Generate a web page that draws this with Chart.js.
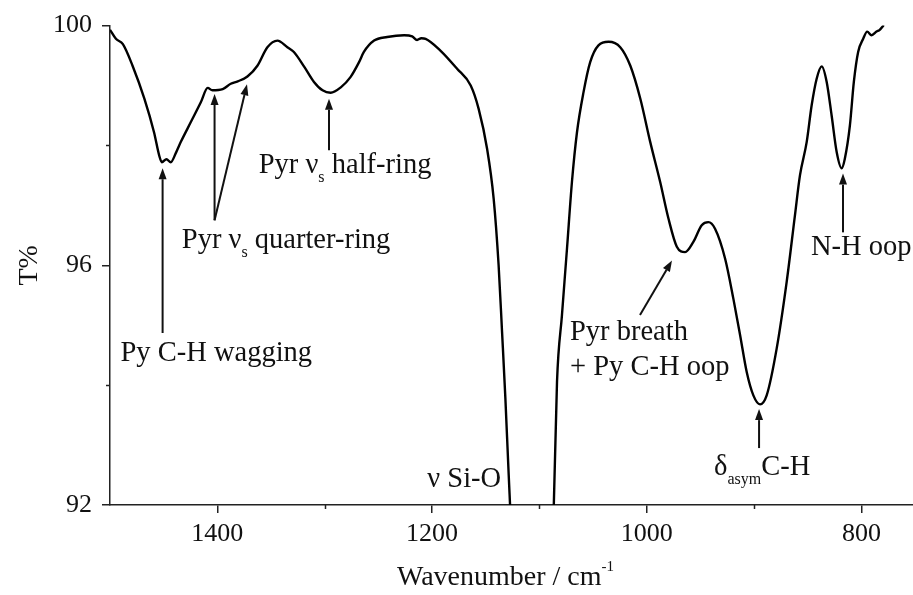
<!DOCTYPE html>
<html>
<head>
<meta charset="utf-8">
<script src="https://cdn.jsdelivr.net/npm/chart.js@4"></script>
<style>
  html, body { margin: 0; padding: 0; background: #fff; }
  #wrap { width: 913px; height: 595px; }
</style>
</head>
<body>
<div id="wrap"><canvas id="ftir" width="913" height="595"></canvas></div>
<script>
// FTIR spectrum, transmittance vs wavenumber
const wavenumber = [
  1500, 1494.5, 1488, 1479, 1468, 1459, 1454, 1451.7, 1447.4, 1443.4, 1438.5, 1434,
  1424.7, 1415.4, 1409, 1404.6, 1395, 1387.5, 1381, 1372, 1362.7, 1353.4, 1344,
  1334.8, 1328.7, 1319, 1310, 1302, 1294.5, 1285, 1276, 1268, 1263.5, 1254, 1241.8,
  1226, 1218.5, 1214, 1210, 1206, 1192, 1176.7, 1164, 1156.6, 1148.7, 1142.6, 1138,
  1134.8, 1131.7, 1128.6, 1125, 1107, 1089, 1086.6, 1083.6, 1079, 1074.3, 1069.7,
  1065, 1058.9, 1052.7, 1045, 1035.6, 1024.7, 1015.3, 1006, 996.8, 987.5, 979.8,
  972, 964.3, 956.6, 948.8, 942.6, 936.4, 927, 919.3, 913, 906.9, 900.7, 894.5,
  888.3, 879, 869.7, 862, 857.3, 851, 846.4, 841.8, 837, 832.4, 827.8, 823.1,
  818.5, 815.5, 810.8, 807.1, 803.1, 798.4, 794.7, 790.6, 786, 783, 779.2
];
const transmittance = [
  99.93, 99.78, 99.69, 99.33, 98.78, 98.22, 97.82, 97.72, 97.77, 97.72, 97.88, 98.06,
  98.39, 98.72, 98.96, 98.92, 98.94, 99.03, 99.07, 99.15, 99.33, 99.64, 99.75,
  99.64, 99.56, 99.31, 99.06, 98.92, 98.88, 98.97, 99.14, 99.39, 99.56, 99.75, 99.81,
  99.84, 99.82, 99.76, 99.79, 99.78, 99.58, 99.28, 99.0, 98.61, 97.94, 97.11, 96.0,
  94.89, 93.78, 92.5, 91.2, 88.5, 91.2, 92.0, 94.06, 95.17, 96.28, 97.39,
  98.22, 98.89, 99.39, 99.67, 99.73, 99.64, 99.33, 98.78, 98.06, 97.39, 96.78,
  96.31, 96.22, 96.39, 96.67, 96.72, 96.61, 96.11, 95.44, 94.83, 94.22, 93.83, 93.68,
  93.83, 94.61, 95.72, 96.83, 97.5, 98.06, 98.67, 99.11, 99.32, 99.06, 98.5, 97.89,
  97.62, 97.78, 98.33, 99.06, 99.56, 99.78, 99.9, 99.84, 99.9, 99.93, 100.01
];

const xTicks = [1400, 1300, 1200, 1100, 1000, 900, 800];
const xTickLabels = ['1400', '', '1200', '', '1000', '', '800'];
const yTicks = [100, 98, 96, 94, 92];
const yTickLabels = ['100', '', '96', '', '92'];

// band assignments: text parts, anchor (data coords), arrows (data coords)
const bandLabels = [
  { parts: [['Py C-H wagging']], x: 1401, y: 94.53, align: 'center',
    arrows: [[1451, 94.87, 1451, 97.62]] },
  { parts: [['Pyr ν'], ['s', 'sub'], [' quarter-ring']], x: 1336, y: 96.42, align: 'center',
    arrows: [[1402.6, 96.75, 1402.6, 98.86], [1402.6, 96.75, 1372.4, 99.02]] },
  { parts: [['Pyr ν'], ['s', 'sub'], [' half-ring']], x: 1281, y: 97.67, align: 'center',
    arrows: [[1296, 97.92, 1296, 98.78]] },
  { parts: [['ν Si-O']], x: 1170, y: 92.42, align: 'center', arrows: [] },
  { parts: [['Pyr breath']], x: 1071.5, y: 94.88, align: 'left',
    arrows: [[1006.3, 95.17, 976.5, 96.08]] },
  { parts: [['+ Py C-H oop']], x: 1071.5, y: 94.3, align: 'left', arrows: [] },
  { parts: [['δ'], ['asym', 'sub'], ['C-H']], x: 937.3, y: 92.63, align: 'left',
    arrows: [[895.4, 92.95, 895.4, 93.6]] },
  { parts: [['N-H oop']], x: 847, y: 96.3, align: 'left',
    arrows: [[817.2, 96.55, 817.2, 97.53]] }
];

const FONT = '"Liberation Serif", "Times New Roman", serif';
const points = wavenumber.map((w, i) => ({ x: w, y: transmittance[i] }));

function fontStr(size) { return size + 'px ' + FONT; }

function drawParts(ctx, parts, x, y, size, align) {
  const widths = parts.map(p => {
    ctx.font = fontStr(p[1] ? Math.round(size * 0.55) : size);
    return ctx.measureText(p[0]).width;
  });
  const total = widths.reduce((a, b) => a + b, 0);
  let cx = align === 'center' ? x - total / 2 : x;
  ctx.textBaseline = 'middle';
  ctx.textAlign = 'left';
  parts.forEach((p, i) => {
    let dy = 0;
    if (p[1] === 'sub') dy = size * 0.45;
    if (p[1] === 'sup') dy = -size * 0.4;
    ctx.font = fontStr(p[1] ? Math.round(size * 0.55) : size);
    ctx.fillText(p[0], cx, y + dy);
    cx += widths[i];
  });
}

function drawArrow(ctx, x1, y1, x2, y2) {
  const ang = Math.atan2(y2 - y1, x2 - x1);
  const head = 11, half = 4;
  const bx = x2 - head * Math.cos(ang), by = y2 - head * Math.sin(ang);
  ctx.beginPath();
  ctx.moveTo(x1, y1);
  ctx.lineTo(bx, by);
  ctx.stroke();
  ctx.beginPath();
  ctx.moveTo(x2, y2);
  ctx.lineTo(bx + half * Math.sin(ang), by - half * Math.cos(ang));
  ctx.lineTo(bx - half * Math.sin(ang), by + half * Math.cos(ang));
  ctx.closePath();
  ctx.fill();
}

const isMinorX = v => xTickLabels[xTicks.indexOf(v)] === '';
const isMinorY = v => yTickLabels[yTicks.indexOf(v)] === '';

const annotate = {
  id: 'annotate',
  afterDraw(chart) {
    const { ctx, scales: { x, y }, chartArea } = chart;
    ctx.save();
    // short minor ticks
    ctx.strokeStyle = '#222';
    ctx.lineWidth = 1.5;
    xTicks.filter(isMinorX).forEach(v => {
      const px = Math.round(x.getPixelForValue(v)) + 0.5;
      ctx.beginPath();
      ctx.moveTo(px, chartArea.bottom);
      ctx.lineTo(px, chartArea.bottom + 4);
      ctx.stroke();
    });
    yTicks.filter(isMinorY).forEach(v => {
      const py = Math.round(y.getPixelForValue(v)) + 0.5;
      ctx.beginPath();
      ctx.moveTo(chartArea.left, py);
      ctx.lineTo(chartArea.left - 4, py);
      ctx.stroke();
    });
    ctx.fillStyle = '#111';
    ctx.strokeStyle = '#111';
    ctx.lineWidth = 2;
    bandLabels.forEach(b => {
      drawParts(ctx, b.parts, x.getPixelForValue(b.x), y.getPixelForValue(b.y), 28.5, b.align);
      b.arrows.forEach(a => drawArrow(ctx,
        x.getPixelForValue(a[0]), y.getPixelForValue(a[1]),
        x.getPixelForValue(a[2]), y.getPixelForValue(a[3])));
    });
    // axis titles
    drawParts(ctx, [['Wavenumber / cm'], ['-1', 'sup']],
      (chartArea.left + chartArea.right) / 2 - 6, 578, 28, 'center');
    ctx.translate(30, (chartArea.top + chartArea.bottom) / 2);
    ctx.rotate(-Math.PI / 2);
    drawParts(ctx, [['T%']], 0, 0, 28, 'center');
    ctx.restore();
  }
};

new Chart(document.getElementById('ftir'), {
  type: 'line',
  data: {
    datasets: [{
      data: points,
      borderColor: '#000',
      borderWidth: 2.4,
      pointRadius: 0,
      fill: false,
      cubicInterpolationMode: 'monotone'
    }]
  },
  options: {
    responsive: false,
    animation: false,
    layout: { padding: { top: 25, right: 0, left: 0, bottom: 0 } },
    plugins: { legend: { display: false }, tooltip: { enabled: false } },
    scales: {
      x: {
        type: 'linear',
        reverse: true,
        min: 752,
        max: 1500,
        afterBuildTicks: s => { s.ticks = xTicks.map(v => ({ value: v })); },
        afterFit: s => { s.height = 90; },
        ticks: {
          autoSkip: false, maxRotation: 0, padding: 6, color: '#111',
          font: { family: FONT, size: 26 },
          callback: v => xTickLabels[xTicks.indexOf(v)]
        },
        grid: {
          drawOnChartArea: false, tickLength: 8, lineWidth: 1.5,
          tickColor: c => (c.tick && isMinorX(c.tick.value)) ? 'rgba(0,0,0,0)' : '#222'
        },
        border: { color: '#222', width: 1.5 }
      },
      y: {
        min: 92,
        max: 100,
        afterBuildTicks: s => { s.ticks = yTicks.map(v => ({ value: v })); },
        afterFit: s => { s.width = 110; },
        ticks: {
          padding: 10, color: '#111',
          font: { family: FONT, size: 26 },
          callback: v => yTickLabels[yTicks.indexOf(v)]
        },
        grid: {
          drawOnChartArea: false, tickLength: 8, lineWidth: 1.5,
          tickColor: c => (c.tick && isMinorY(c.tick.value)) ? 'rgba(0,0,0,0)' : '#222'
        },
        border: { color: '#222', width: 1.5 }
      }
    }
  },
  plugins: [annotate]
});
</script>
</body>
</html>
